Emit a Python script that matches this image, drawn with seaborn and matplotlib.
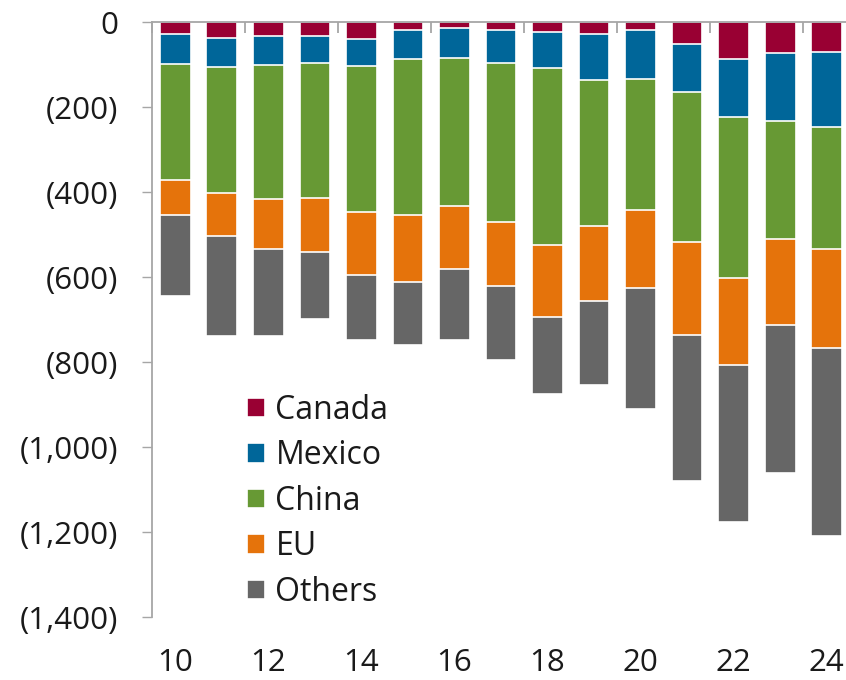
import matplotlib
matplotlib.use("Agg")
import matplotlib.pyplot as plt
import seaborn as sns
import numpy as np
import pandas as pd
from matplotlib.ticker import FuncFormatter, FixedLocator

# ---- data (negative = deficit) ----
years = [str(y) for y in range(2010, 2025)]
canada = [-28, -36, -32, -33, -40, -18, -14, -18, -22, -28, -17, -52, -86, -72, -69]
mexico = [-71, -69, -68, -62, -62, -69, -71, -77, -85, -108, -116, -113, -137, -160, -177]
china = [-273, -296, -316, -319, -345, -367, -347, -374, -417, -343, -309, -352, -379, -279, -287]
eu = [-81, -102, -118, -126, -147, -158, -148, -151, -169, -177, -183, -219, -205, -201, -234]
others = [-192, -235, -204, -158, -154, -148, -168, -176, -183, -198, -286, -344, -370, -349, -442]
series_names = ["Canada", "Mexico", "China", "EU", "Others"]
colors = {"Canada": "#990033", "Mexico": "#006699", "China": "#679934",
          "EU": "#E5730B", "Others": "#666666"}
x_labels = ["10", "12", "14", "16", "18", "20", "22", "24"]
y_ticks = [0, -200, -400, -600, -800, -1000, -1200, -1400]

sns.set_theme(style="white")
plt.rcParams["font.family"] = ["Open Sans", "DejaVu Sans"]
text_color = "#1a1a1a"
axis_gray = "#a6a6a6"

df = pd.DataFrame({"year": years, "Canada": canada, "Mexico": mexico,
                   "China": china, "EU": eu, "Others": others})
cum = df[series_names].cumsum(axis=1)

fig = plt.figure(figsize=(8.46, 6.80), dpi=100)
ax = fig.add_axes([0.1797, 0.0926, 1 - 0.1797, 0.9672 - 0.0926])

# draw cumulative bars from the largest to the smallest
for name in reversed(series_names):
    sns.barplot(x=df["year"], y=cum[name], color=colors[name], width=0.66,
                edgecolor="white", linewidth=1.2, saturation=1, ax=ax,
                label=name)

ax.set_xlim(-0.5, 14.415)
ax.set_ylim(-1400, 0)

# axes styling
for s in ["bottom", "right"]:
    ax.spines[s].set_visible(False)
for s in ["top", "left"]:
    ax.spines[s].set_color(axis_gray)
    ax.spines[s].set_linewidth(1.3)

ax.yaxis.set_major_locator(FixedLocator(y_ticks))
ax.yaxis.set_major_formatter(FuncFormatter(
    lambda v, p: "0" if v == 0 else f"({abs(v):,.0f})"))
ax.tick_params(axis="y", which="major", left=True, direction="out", length=7.2,
               width=1, color=axis_gray, pad=17, labelsize=22.5,
               labelcolor=text_color)

ax.set_xticks(list(range(0, 15, 2)))
ax.set_xticklabels(x_labels)
ax.set_xticks([i + 0.5 for i in range(1, 14, 2)] + [-0.5], minor=True)
ax.tick_params(axis="x", which="major", bottom=False, top=False, length=0,
               pad=22, labelsize=22.5, labelcolor=text_color)
ax.tick_params(axis="x", which="minor", bottom=False, top=True, direction="in",
               length=8, width=1.3, color=axis_gray)

ax.set_xlabel("")
ax.set_ylabel("")
ax.grid(False)

handles, labels = ax.get_legend_handles_labels()
order = [labels.index(n) for n in series_names]
leg = ax.legend([handles[i] for i in order], [labels[i] for i in order],
                loc="upper left", bbox_to_anchor=(247 / 846, 1 - 394 / 680),
                bbox_transform=fig.transFigure, frameon=False, fontsize=23,
                handlelength=0.56, handleheight=0.56, handletextpad=0.33,
                labelspacing=0.39, borderpad=0, borderaxespad=0)
for t in leg.get_texts():
    t.set_color(text_color)

fig.savefig("out.png", dpi=100)
